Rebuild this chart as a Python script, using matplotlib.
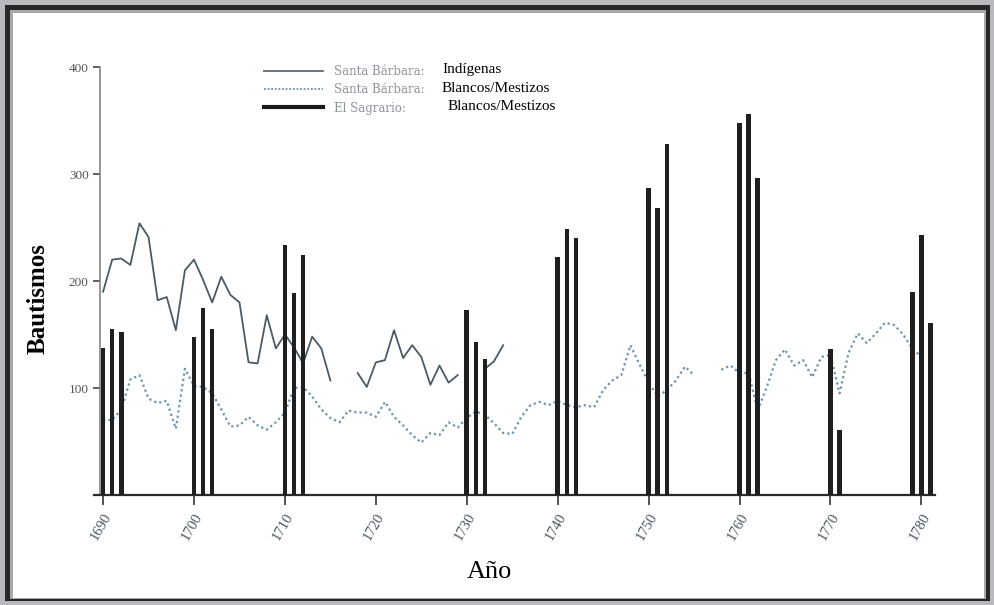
import numpy as np
import matplotlib.pyplot as plt
from matplotlib.patches import Rectangle
from matplotlib.lines import Line2D

# a. data
years_sb = np.arange(1690, 1735)
indigenas = [190, 220, 221, 215, 254, 241, 182, 185, 154, 210,
             220, 201, 180, 204, 187, 180, 124, 123, 168, 137,
             150, 138, 123, 148, 137, 107, np.nan, np.nan, 114, 101,
             124, 126, 154, 128, 140, 129, 103, 121, 105, 112,
             np.nan, np.nan, 118, 125, 140]

years_bm = np.arange(1690, 1781)
blancos_sb = [70, 70, 80, 108, 112, 90, 86, 88, 62, 118,
              102, 101, 95, 80, 64, 65, 73, 65, 61, 68,
              77, 100, 101, 92, 80, 72, 68, 79, 77, 77,
              73, 87, 73, 65, 56, 49, 58, 56, 68, 63,
              72, 78, 75, 67, 58, 57, 73, 84, 87, 84,
              88, 84, 82, 84, 82, 98, 107, 112, 140, 122,
              105, 92, 98, 107, 120, 112, np.nan, np.nan, 117, 121,
              114, 114, 79, 101, 126, 136, 121, 126, 110, 129,
              131, 95, 133, 151, 142, 151, 161, 159, 150, 137,
              129]

bar_years = [1690, 1691, 1692, 1700, 1701, 1702, 1710, 1711, 1712,
             1730, 1731, 1732, 1740, 1741, 1742, 1750, 1751, 1752,
             1760, 1761, 1762, 1770, 1771, 1779, 1780, 1781]
sagrario = [137, 155, 152, 148, 175, 155, 234, 189, 224,
            173, 143, 127, 222, 249, 240, 287, 268, 328,
            348, 356, 296, 136, 61, 190, 243, 161]

x_ticks = list(range(1690, 1781, 10))
y_ticks = [100, 200, 300, 400]

SERIF = 'Liberation Serif'
W, H = 995, 605

# b. figure with the grey frame
fig = plt.figure(figsize=(W/100, H/100), dpi=100)
fig.patch.set_facecolor('#b8b9bd')

def px_rect(x0, y0, x1, y1, color):
    fig.add_artist(Rectangle((x0/W, 1 - y1/H), (x1-x0)/W, (y1-y0)/H,
                             transform=fig.transFigure, facecolor=color,
                             edgecolor='none', zorder=-10))

px_rect(5, 5, 990, 601, '#262626')
px_rect(10, 10, 986, 599, '#a9a9a9')
px_rect(13, 13, 984, 598, 'white')

# c. axes
ax = fig.add_axes([94/W, 1 - 495/H, (935-94)/W, (495-67)/H])
ax.patch.set_alpha(0)

ax.plot(years_sb, indigenas, color='#4b5a66', lw=1.3, zorder=2)
ax.plot(years_bm, blancos_sb, color='#6d93b0', lw=1.6, ls=(0, (1, 1.4)), zorder=2)
ax.bar(bar_years, sagrario, width=0.5, color='#1f1f1f', zorder=3)

ax.set_xlim(1689.0, 1781.5)
ax.set_ylim(0, 400)

# d. spines and ticks
ax.spines['top'].set_visible(False)
ax.spines['right'].set_visible(False)
ax.spines['left'].set_position(('data', 1689.65))
ax.spines['left'].set_color('#7a7a7a')
ax.spines['left'].set_linewidth(1.1)
ax.spines['bottom'].set_color('#2a2a2a')
ax.spines['bottom'].set_linewidth(1.6)

ax.set_yticks(y_ticks)
ax.set_yticklabels([str(v) for v in y_ticks], fontsize=9.5, color='#555555', family=SERIF)
ax.tick_params(axis='y', length=5, width=1.3, color='#555555', pad=3)

ax.set_xticks(x_ticks)
ax.set_xticklabels([str(v) for v in x_ticks], fontsize=10.5, color='#4a545e',
                   family=SERIF, rotation=60, ha='right', va='top',
                   rotation_mode='anchor')
ax.tick_params(axis='x', length=7, width=1.2, color='#333333', pad=4)

# e. axis titles
fig.text(38/W, 1 - 299/H, 'Bautismos', rotation=90, fontsize=18,
         fontweight='bold', family=SERIF, ha='center', va='center')
fig.text(489/W, 1 - 572/H, 'Año', fontsize=19, family=SERIF,
         ha='center', va='center')

# f. legend (keys + small prefix), then the larger suffix texts
handles = [Line2D([], [], color='#5a6b78', lw=1.3),
           Line2D([], [], color='#6d93b0', lw=1.3, ls=(0, (1, 1))),
           Line2D([], [], color='#1a1a1a', lw=3)]
leg = ax.legend(handles, ['Santa Bárbara:', 'Santa Bárbara:', 'El Sagrario:'],
                loc='upper left', bbox_to_anchor=(264/W, 1 - 65/H),
                bbox_transform=fig.transFigure, frameon=False,
                prop={'family': 'DejaVu Serif', 'size': 8.5}, labelcolor='#8e939c',
                handlelength=5.0, handletextpad=0.95, labelspacing=0.45,
                borderpad=0, borderaxespad=0)

fig.text(442/W, 1 - 70/H, 'Indígenas', fontsize=11, family=SERIF, va='center')
fig.text(442/W, 1 - 88/H, 'Blancos/Mestizos', fontsize=11, family=SERIF, va='center')
fig.text(448/W, 1 - 106/H, 'Blancos/Mestizos', fontsize=11, family=SERIF, va='center')

fig.savefig('out.png', dpi=100, facecolor=fig.get_facecolor())
